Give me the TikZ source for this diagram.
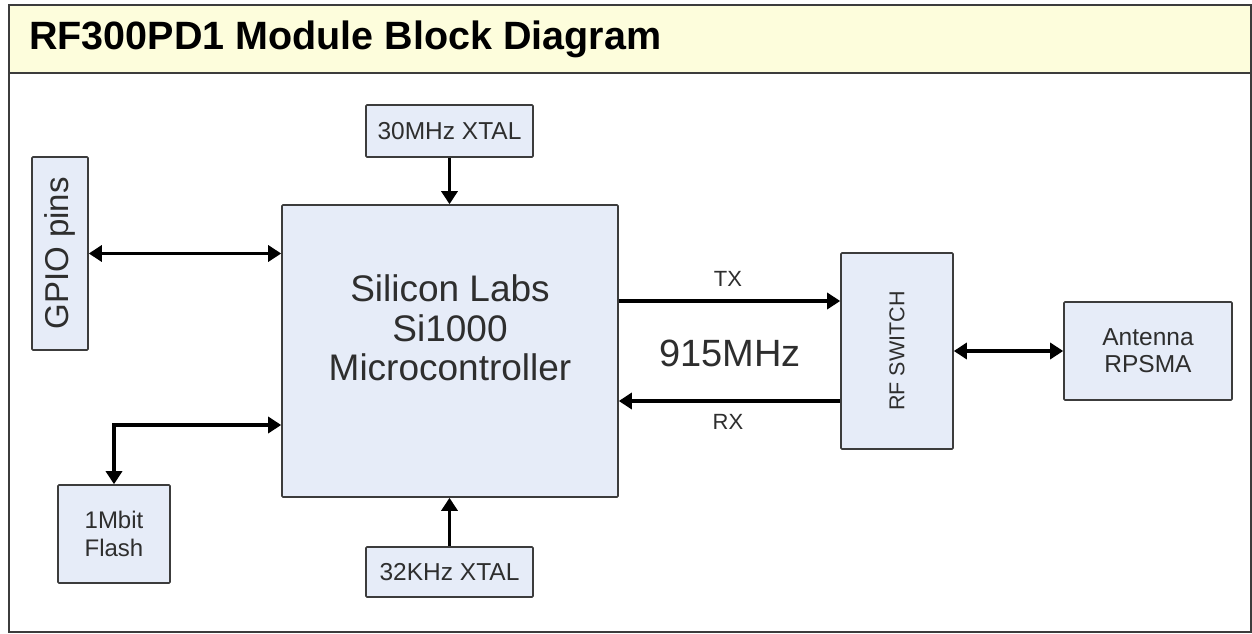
\documentclass[tikz,border=0pt]{standalone}
\usepackage{fontspec}
\setmainfont{Liberation Sans}
\usetikzlibrary{arrows.meta}
\definecolor{boxfill}{HTML}{E6ECF8}
\definecolor{boxline}{HTML}{3C3C3C}
\definecolor{titlefill}{HTML}{FDFDDC}
\definecolor{txt}{HTML}{2E2E2E}
\tikzset{
  blk/.style={draw=boxline, fill=boxfill, line width=1.6pt, inner sep=0pt, text=txt, align=center, rounded corners=1pt},
  conn/.style={line width=3.2pt, black, arrows={-}},
  tip/.tip={Triangle[length=13pt,width=16pt]},
  lbl/.style={text=txt, inner sep=0pt, font=\fontsize{22}{24}\selectfont}
}
\begin{document}
\begin{tikzpicture}[x=1pt,y=-1pt]
\useasboundingbox (0,0) rectangle (1252,634);
\fill[white] (0,0) rectangle (1252,634);
% frame and title bar
\draw[line width=1.6pt, draw=boxline] (9,5) rectangle (1251,632);
\draw[line width=1.6pt, draw=boxline, fill=titlefill] (9,5) rectangle (1251,73);
\node[anchor=west, inner sep=0pt, font=\bfseries\fontsize{39.5}{42}\selectfont] (title) at (29,39) {RF300PD1 Module Block Diagram};
% blocks
\node[blk, minimum width=56pt, minimum height=193pt] (gpio) at (60,253.5) {\rotatebox{90}{\fontsize{33}{35}\selectfont GPIO pins}};
\node[blk, minimum width=112pt, minimum height=98pt, font=\fontsize{24}{28}\selectfont] (flash) at (114,534) {1Mbit\\Flash};
\node[blk, minimum width=336pt, minimum height=292pt] (mcu) at (450,351) {};
\node[text=txt, align=center, inner sep=0pt, font=\fontsize{37}{39.5}\selectfont] (mcutext) at (450,328) {Silicon Labs\\Si1000\\Microcontroller};
\node[blk, minimum width=167pt, minimum height=52pt, font=\fontsize{24.5}{27}\selectfont] (x30) at (449.5,131) {30MHz XTAL};
\node[blk, minimum width=167pt, minimum height=50pt, font=\fontsize{24.5}{27}\selectfont] (x32) at (449.5,572) {32KHz XTAL};
\node[blk, minimum width=112pt, minimum height=196pt] (rf) at (897,351) {\rotatebox{90}{\fontsize{21.5}{24}\selectfont RF SWITCH}};
\node[blk, minimum width=168pt, minimum height=98pt, font=\fontsize{24.5}{27}\selectfont] (ant) at (1148,351) {Antenna\\RPSMA};
% labels
\node[lbl] (txl) at (728,279) {TX};
\node[lbl] (rxl) at (728,422) {RX};
\node[text=txt, inner sep=0pt, font=\fontsize{38}{40}\selectfont] (freq) at (730,353) {915MHz};
% helper coordinates
\coordinate (flashrow) at (0,425);
\coordinate (txrow) at (0,301);
\coordinate (rxrow) at (0,401);
% connectors
\draw[conn, tip-tip] (gpio.east) -- (gpio.east -| mcu.west);
\draw[conn, tip-tip] (flash.north) |- (mcu.west |- flashrow);
\draw[conn, -tip] (x30.south) -- (x30.south |- mcu.north);
\draw[conn, -tip] (x32.north) -- (x32.north |- mcu.south);
\draw[conn, -tip] (mcu.east |- txrow) -- (rf.west |- txrow);
\draw[conn, -tip] (rf.west |- rxrow) -- (mcu.east |- rxrow);
\draw[conn, tip-tip] (rf.east) -- (ant.west);
\end{tikzpicture}
\end{document}
